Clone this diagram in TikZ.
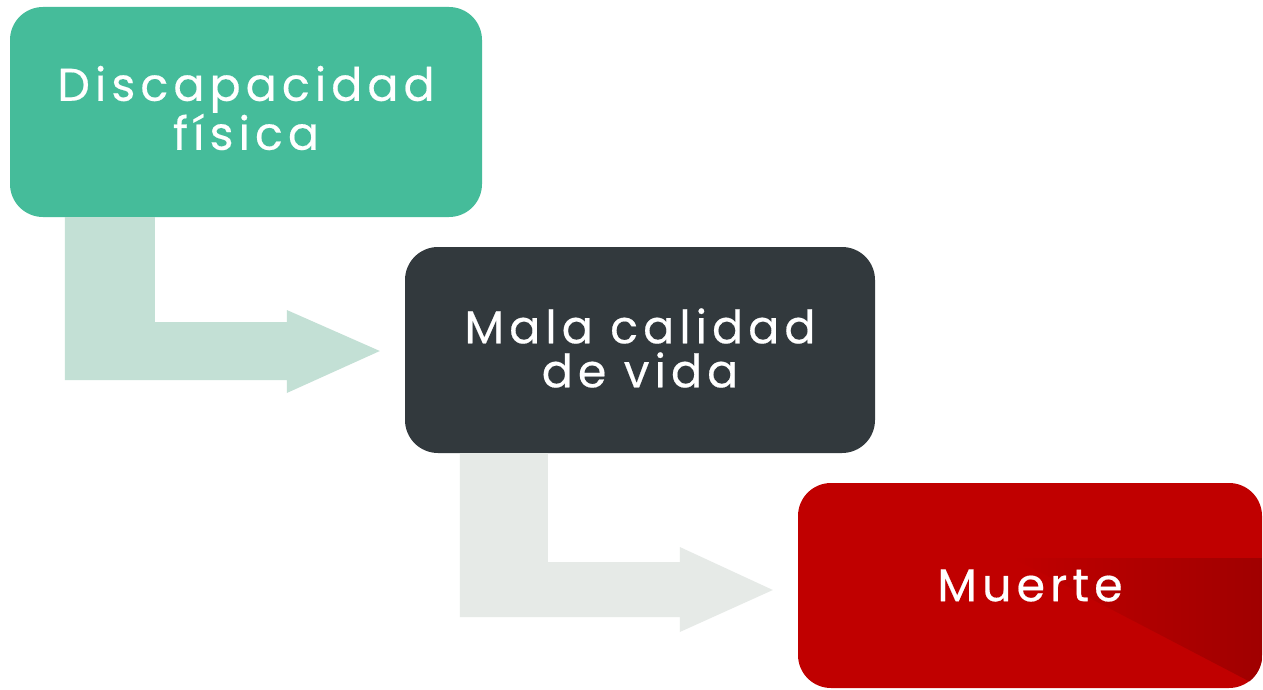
\documentclass[tikz,border=0pt]{standalone}
\usepackage{fontspec}
\setmainfont{Poppins}
\usetikzlibrary{calc}
\definecolor{cgreen}{HTML}{45BC9A}
\definecolor{cgreenl}{HTML}{C3E0D5}
\definecolor{cdark}{HTML}{32393D}
\definecolor{cgrayl}{HTML}{E6EAE7}
\definecolor{cred}{HTML}{C00000}
\definecolor{creddark}{HTML}{A00000}
\tikzset{
  stepbox/.style={rectangle, rounded corners=33pt, inner sep=0pt, align=center,
    text=white, font=\fontsize{46}{44}\selectfont\addfontfeatures{LetterSpace=11,FakeBold=0.4}},
}
\begin{document}
\begin{tikzpicture}[x=1pt,y=-1pt]
\useasboundingbox (0,0) rectangle (1263,690);
\fill[white] (0,0) rectangle (1263,690);
\node[stepbox, fill=cgreen, minimum width=472pt, minimum height=210pt] (b1) at (246,112) {};
\node[stepbox, fill=cdark, minimum width=470pt, minimum height=206pt] (b2) at (640,350) {};
\node[stepbox, fill=cred, minimum width=464pt, minimum height=205pt] (b3) at (1030,585.5) {};
% arrows from box to box
\fill[cgreenl] ($(b1.south west)+(55,0)$) -- ($(b1.south west)+(145,0)$) |- ($(b2.west)+(-118,-28)$)
  -- ++(0,-12) -- ($(b2.west)+(-25,1)$) -- ++(-93,42) -- ++(0,-13) -| cycle;
\fill[cgrayl] ($(b2.south west)+(55,0)$) -- ($(b2.south west)+(143,0)$) |- ($(b3.west)+(-118,-23.5)$)
  -- ++(0,-15) -- ($(b3.west)+(-25,4.5)$) -- ++(-93,42) -- ++(0,-15) -| cycle;
\node[stepbox] (t1) at ($(b1.center)+(0,-4)$) {Discapacidad\\física};
\node[stepbox] (t2) at ($(b2.center)+(0,-2)$) {Mala calidad\\de vida};
\begin{scope}
\clip[rounded corners=33pt] (b3.south west) rectangle (b3.north east);
\shade[left color=cred, right color=creddark] (1013,558) -- (1262,558) -- (1262,688) -- cycle;
\end{scope}
\node[stepbox] (t3) at (b3.center) {Muerte};
\end{tikzpicture}
\end{document}
